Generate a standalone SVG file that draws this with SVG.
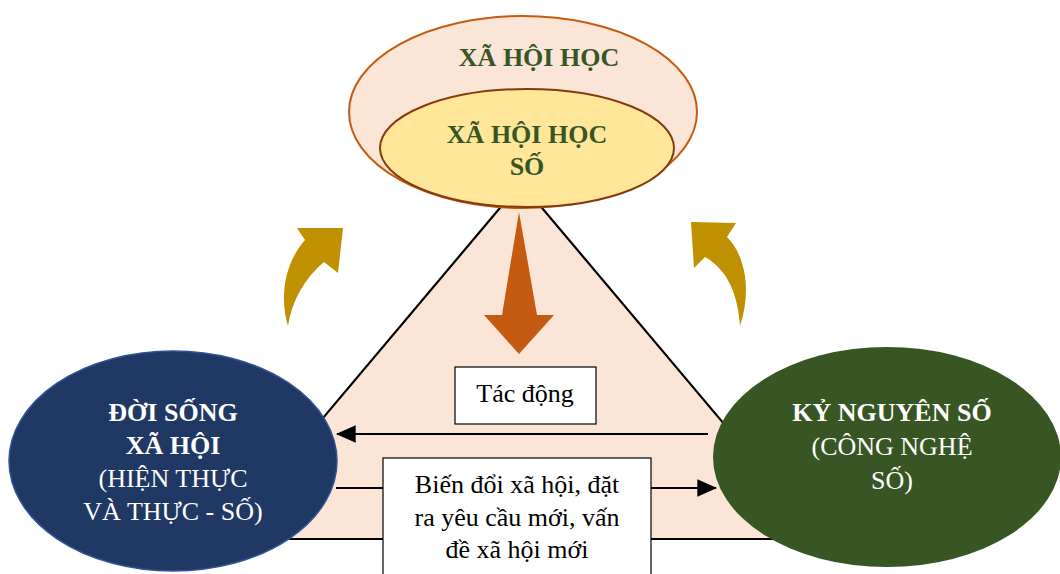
<svg xmlns="http://www.w3.org/2000/svg" width="1060" height="574" viewBox="0 0 1060 574">
<style>
  text { font-family: "Liberation Serif", "Times New Roman", serif; font-size: 26px; text-anchor: middle; }
  .b { font-weight: bold; }
  .green { fill: #375623; }
  .white { fill: #ffffff; }
  .black { fill: #000000; }
  .gold { fill: #BF9000; }
  .conn { stroke: #000000; stroke-width: 2.2; fill: none; }
  .box { fill: #ffffff; stroke: #000000; stroke-width: 1.2; }
</style>
<defs>
  <marker id="ah" markerWidth="9" markerHeight="8" refX="8.5" refY="4" orient="auto" markerUnits="strokeWidth">
    <path d="M0,0 L9,4 L0,8 Z" fill="#000000"/>
  </marker>
</defs>
<rect width="1060" height="574" fill="#ffffff"/>

<g id="triangle">
  <polygon points="521,183 221,539 821,539" fill="#FBE5D6" stroke="#000000" stroke-width="2.2"/>
</g>

<g id="gold-arrows">
  <path class="gold" d="M 297 228 L 343 228 L 338 273 L 324 262 C 305 278, 292 300, 288 326 C 280 300, 283 265, 305 240 Z"/>
  <path class="gold" d="M 691 222 L 736 223 L 727 237 C 745 255, 752 290, 740 326 C 738 295, 728 270, 705 257 L 694 268 Z"/>
</g>

<g id="xa-hoi-hoc">
  <ellipse cx="523" cy="112" rx="174" ry="96" fill="#FBE5D6" stroke="#C55A11" stroke-width="2"/>
  <text class="b green" x="539" y="66">XÃ HỘI HỌC</text>
</g>

<g id="xa-hoi-hoc-so">
  <ellipse cx="527" cy="148" rx="147" ry="59" fill="#FFE699" stroke="#843C0C" stroke-width="2"/>
  <text class="b green" x="527" y="143">XÃ HỘI HỌC</text>
  <text class="b green" x="527" y="175">SỐ</text>
</g>

<g id="orange-arrow">
  <path d="M 519 212 L 537 315 L 554 315 L 519 354 L 484 315 L 502 315 Z" fill="#C55A11"/>
</g>

<g id="doi-song-xa-hoi">
  <ellipse cx="173" cy="461" rx="164" ry="110" fill="#1F3864" stroke="#2F5597" stroke-width="1.5"/>
  <text class="b white" x="173" y="421">ĐỜI SỐNG</text>
  <text class="b white" x="173" y="454">XÃ HỘI</text>
  <text class="white" x="173" y="487">(HIỆN THỰC</text>
  <text class="white" x="173" y="520">VÀ THỰC - SỐ)</text>
</g>

<g id="ky-nguyen-so">
  <ellipse cx="887" cy="457" rx="174" ry="110" fill="#375623"/>
  <text class="b white" x="892" y="421">KỶ NGUYÊN SỐ</text>
  <text class="white" x="892" y="455">(CÔNG NGHỆ</text>
  <text class="white" x="892" y="489">SỐ)</text>
</g>

<g id="connectors">
  <line class="conn" x1="708" y1="434" x2="337" y2="434" marker-end="url(#ah)"/>
  <line class="conn" x1="336" y1="488" x2="716" y2="488" marker-end="url(#ah)"/>
</g>

<g id="tac-dong">
  <rect class="box" x="455" y="367" width="141" height="57"/>
  <text class="black" x="525" y="402">Tác động</text>
</g>

<g id="bien-doi">
  <rect class="box" x="383" y="458" width="268" height="130"/>
  <text class="black" x="517" y="493">Biến đổi xã hội, đặt</text>
  <text class="black" x="517" y="526">ra yêu cầu mới, vấn</text>
  <text class="black" x="517" y="558">đề xã hội mới</text>
</g>
</svg>
